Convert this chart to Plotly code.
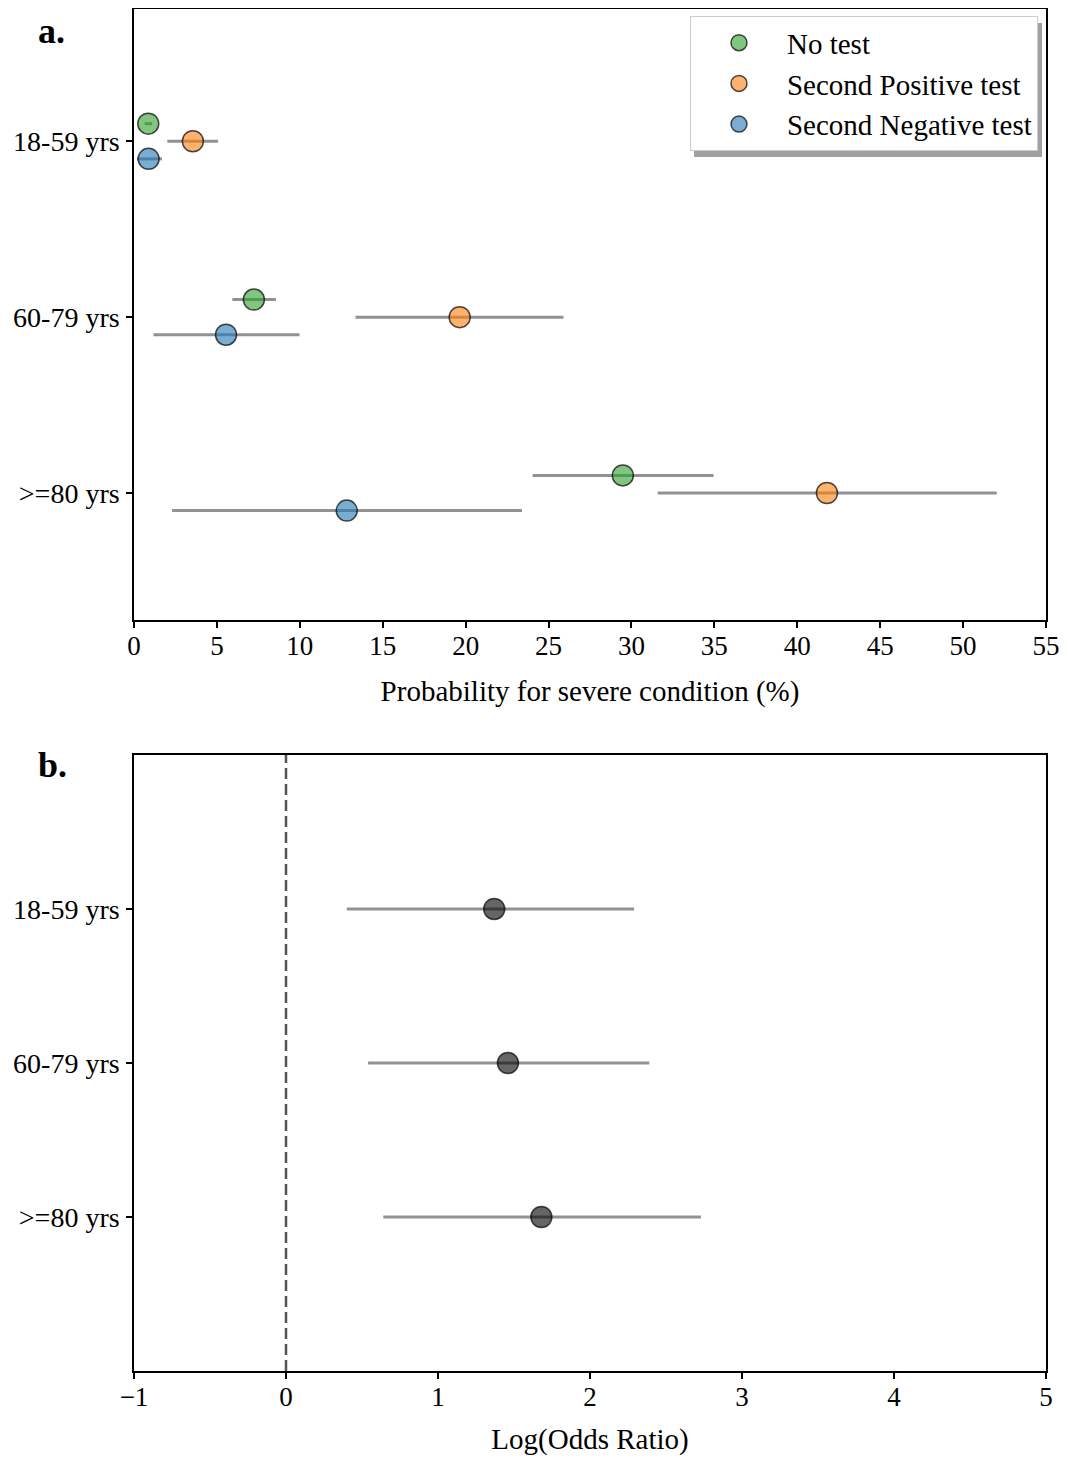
import plotly.graph_objects as go
from plotly.subplots import make_subplots

age_groups = ["18-59 yrs", "60-79 yrs", ">=80 yrs"]

# panel a: probability of severe condition (%), estimate + interval
no_test = [0.86, 7.23, 29.48]
no_test_low = [0.64, 5.93, 24.04]
no_test_high = [1.09, 8.56, 34.95]

second_pos = [3.55, 19.64, 41.79]
second_pos_low = [2.01, 13.36, 31.58]
second_pos_high = [5.07, 25.90, 52.03]

second_neg = [0.88, 5.55, 12.83]
second_neg_low = [0.18, 1.17, 2.29]
second_neg_high = [1.69, 9.98, 23.40]

# panel b: log odds ratio
log_or = [1.37, 1.46, 1.68]
log_or_low = [0.40, 0.54, 0.64]
log_or_high = [2.29, 2.39, 2.73]

FONT = "Liberation Serif, Times New Roman, serif"
ERR_COLOR = "rgba(110,110,110,0.75)"
EDGE = "rgba(0,0,0,0.7)"

fig = make_subplots(rows=2, cols=1)

series = [
    ("No test", no_test, no_test_low, no_test_high, "rgba(44,160,44,0.6)", -0.1),
    ("Second Positive test", second_pos, second_pos_low, second_pos_high, "rgba(255,127,14,0.6)", 0.0),
    ("Second Negative test", second_neg, second_neg_low, second_neg_high, "rgba(31,119,180,0.6)", 0.1),
]
ypos = list(range(len(age_groups)))

for name, vals, lo, hi, color, off in series:
    fig.add_trace(go.Scatter(
        x=vals, y=[p + off for p in ypos], mode="markers", name=name,
        marker=dict(size=21, color=color, line=dict(color=EDGE, width=1.5)),
        error_x=dict(type="data", symmetric=False,
                     array=[h - v for h, v in zip(hi, vals)],
                     arrayminus=[v - l for v, l in zip(vals, lo)],
                     color=ERR_COLOR, thickness=3, width=0),
    ), row=1, col=1)

fig.add_trace(go.Scatter(
    x=log_or, y=ypos, mode="markers", showlegend=False,
    marker=dict(size=21, color="rgba(0,0,0,0.6)", line=dict(color=EDGE, width=1.5)),
    error_x=dict(type="data", symmetric=False,
                 array=[h - v for h, v in zip(log_or_high, log_or)],
                 arrayminus=[v - l for v, l in zip(log_or, log_or_low)],
                 color=ERR_COLOR, thickness=3, width=0),
), row=2, col=1)

axis_style = dict(showline=True, linecolor="black", linewidth=1.5, mirror=True,
                  ticks="outside", ticklen=6, tickwidth=1.5, tickcolor="black",
                  showgrid=False, zeroline=False, automargin=False)

fig.update_xaxes(**axis_style, ticklabelstandoff=-5,
                 tickfont=dict(family=FONT, size=27, color="black"))
fig.update_yaxes(**axis_style, tickvals=ypos, ticktext=age_groups, ticklabelstandoff=1,
                 tickfont=dict(family=FONT, size=28, color="black"))

fig.update_xaxes(range=[0, 55], dtick=5, row=1, col=1,
                 title=dict(text="Probability for severe condition (%)", standoff=21,
                            font=dict(family=FONT, size=29, color="black")))
fig.update_xaxes(range=[-1, 5], dtick=1, row=2, col=1,
                 title=dict(text="Log(Odds Ratio)", standoff=21,
                            font=dict(family=FONT, size=29, color="black")))
fig.update_yaxes(range=[2.722, -0.752], domain=[0.5514, 1.0], row=1, col=1)
fig.update_yaxes(range=[3.0, -1.0], domain=[0.0, 0.4523], row=2, col=1)

# reference line at zero
fig.add_shape(type="line", xref="x2", yref="y2 domain", x0=0, x1=0, y0=0, y1=1,
              line=dict(color="#555555", width=2.5, dash="11px,5px"))

# legend drop shadow (sits under the legend box, only right/bottom edges show)
fig.add_shape(type="rect", xref="paper", yref="paper", layer="above",
              x0=0.614, x1=0.9956, y0=0.8913, y1=0.9897,
              line=dict(width=0), fillcolor="rgba(150,150,150,0.9)")

fig.add_annotation(text="<b>a.</b>", xref="paper", yref="paper",
                   x=-0.1078, y=1.0, xanchor="left", yanchor="top",
                   showarrow=False, font=dict(family=FONT, size=36, color="black"))
fig.add_annotation(text="<b>b.</b>", xref="paper", yref="paper",
                   x=-0.1078, y=0.4449, xanchor="left", yanchor="middle",
                   showarrow=False, font=dict(family=FONT, size=36, color="black"))

fig.update_layout(
    width=1052, height=1448,
    margin=dict(l=126, r=14, t=1, b=85),
    plot_bgcolor="white", paper_bgcolor="white",
    font=dict(family=FONT, color="black"),
    legend=dict(x=0.9912, y=0.9946, xanchor="right", yanchor="top",
                bgcolor="white", bordercolor="#cccccc", borderwidth=1,
                font=dict(family=FONT, size=29, color="black"),
                itemwidth=86),
)

fig.write_html("out.html")
